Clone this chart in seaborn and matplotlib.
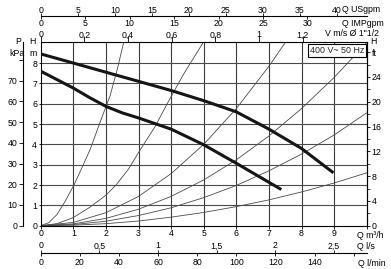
import numpy as np
import pandas as pd
import matplotlib
matplotlib.use("Agg")
import matplotlib.pyplot as plt
import seaborn as sns
from matplotlib import font_manager

# ---------------- data ----------------
q_upper = [0, 1, 2, 3, 4, 5, 6, 7, 8, 8.98]
h_upper = [8.45, 8.0, 7.55, 7.1, 6.65, 6.15, 5.6, 4.75, 3.8, 2.6]

q_lower = [0, 1, 1.5, 2, 2.5, 3, 4, 5, 6, 7.38]
h_lower = [7.6, 6.77, 6.3, 5.87, 5.55, 5.3, 4.75, 3.98, 3.07, 1.78]

# thin system curves
sys1_q = [0, 0.25, 0.5, 0.75, 1.02, 1.25, 1.53, 1.8, 2.13, 2.35, 2.55]
sys1_h = [0, 0.15, 0.55, 1.2, 2.0, 2.8, 3.8, 5.0, 6.4, 7.7, 9.05]
sys2_q = [0, 0.5, 1, 1.5, 2, 2.31, 2.7, 3.05, 3.5, 3.88, 4.4, 5.0]
sys2_h = [0, 0.1, 0.4, 0.9, 1.5, 2.0, 2.8, 3.73, 4.85, 6.0, 7.5, 9.05]
sys3_q = [0, 1, 2, 3, 4, 5, 6, 7, 7.52]
sys3_h = [0, 0.16, 0.64, 1.44, 2.56, 4.0, 5.76, 7.84, 9.05]
sys4_q = [0, 1, 2, 3, 4, 5, 6, 7, 8, 9, 10]
sys4_h = [0, 0.09, 0.36, 0.81, 1.44, 2.25, 3.24, 4.41, 5.76, 7.29, 9.0]
sys5_q = [0, 1, 2, 3, 4, 5, 6, 7, 8, 9, 10]
sys5_h = [0, 0.055, 0.22, 0.5, 0.88, 1.38, 1.98, 2.7, 3.52, 4.46, 5.55]
sys6_q = [0, 1, 2, 3, 4, 5, 6, 7, 8, 9, 10]
sys6_h = [0, 0.026, 0.1, 0.23, 0.42, 0.65, 0.94, 1.27, 1.66, 2.1, 2.6]

q_ticks = [0, 1, 2, 3, 4, 5, 6, 7, 8, 9, 10]
q_labels = ["0", "1", "2", "3", "4", "5", "6", "7", "8", "9", ""]
h_ticks = [0, 1, 2, 3, 4, 5, 6, 7, 8]
kpa_ticks = [0, 10, 20, 30, 40, 50, 60, 70, 80]
kpa_labels = ["0", "10", "20", "30", "40", "50", "60", "70", ""]
ft_ticks = [0, 4, 8, 12, 16, 20, 24, 28]
ft_labels = ["0", "4", "8", "12", "16", "20", "24", "ft"]
ft_minor = [2, 6, 10, 14, 18, 22, 26]
usg_ticks = [0, 5, 10, 15, 20, 25, 30, 35, 40]
usg_labels = ["0", "5", "10", "15", "20", "25", "30", "35", "40"]
imp_ticks = [0, 5, 10, 15, 20, 25, 30]
imp_labels = ["0", "5", "10", "15", "20", "25", "30"]
v_ticks = [0, 0.2, 0.4, 0.6, 0.8, 1.0, 1.2]
v_labels = ["0", "0,2", "0,4", "0,6", "0,8", "1", "1,2"]
ls_ticks = [0, 0.5, 1, 1.5, 2, 2.5]
ls_labels = ["0", "0,5", "1", "1,5", "2", "2,5"]
lmin_ticks = [0, 20, 40, 60, 80, 100, 120, 140, 160]
lmin_labels = ["0", "20", "40", "60", "80", "100", "120", "140", ""]

QMAX = 10.0
HMAX = 9.05
V_PER_Q = 1 / 6.7  # m/s per m3/h

# ---------------- style ----------------
sns.set_theme(style="white")
names = {f.name for f in font_manager.fontManager.ttflist}
if "Liberation Sans Narrow" in names:
    FAM, FS, FSB = "Liberation Sans Narrow", 6.8, 7.4
else:
    FAM, FS, FSB = "Liberation Sans", 6.3, 6.4
plt.rcParams["font.family"] = [FAM, "DejaVu Sans"]
plt.rcParams["axes.linewidth"] = 0.8

W, H = 391, 269
fig = plt.figure(figsize=(W / 100, H / 100), dpi=100)
fig.patch.set_facecolor("white")


def fx(x):
    return x / W


def fy(y):
    return 1 - y / H


L, R, B, T = fx(40.7), fx(366.7), fy(225.7), fy(41.7)
ax = fig.add_axes([L, B, R - L, T - B])
ax.set_xlim(0, QMAX)
ax.set_ylim(0, HMAX)

# grid
for q in q_ticks[1:-1]:
    ax.axvline(q, color="#3a3a3a", lw=0.8, zorder=1)
for h in h_ticks[1:]:
    ax.axhline(h, color="#4a4a4a", lw=0.8, zorder=1)

# thin curves
thin = [(sys1_q, sys1_h), (sys2_q, sys2_h), (sys3_q, sys3_h),
        (sys4_q, sys4_h), (sys5_q, sys5_h), (sys6_q, sys6_h)]
for qq, hh in thin:
    df = pd.DataFrame({"Q": qq, "H": hh})
    sns.lineplot(data=df, x="Q", y="H", ax=ax, color="#4a4a4a", lw=0.6,
                 sort=False, estimator=None, zorder=2)

for qq, hh in [(q_upper, h_upper), (q_lower, h_lower)]:
    df = pd.DataFrame({"Q": qq, "H": hh})
    sns.lineplot(data=df, x="Q", y="H", ax=ax, color="#151515", lw=2.2,
                 sort=False, estimator=None, zorder=3, solid_capstyle="butt",
                 solid_joinstyle="round")

ax.set_xlabel("")
ax.set_ylabel("")
ax.set_xticks(q_ticks)
ax.set_xticklabels(q_labels)
ax.set_yticks(h_ticks)
ax.set_yticklabels([str(h) for h in h_ticks])
ax.tick_params(axis="x", length=1.8, width=0.6, pad=0.8, labelsize=FS,
               colors="black", direction="out")
ax.tick_params(axis="y", length=1.8, width=0.6, pad=0.8, labelsize=FS,
               colors="black", direction="out")
for s in ax.spines.values():
    s.set_color("black")
    s.set_linewidth(0.8)

ax.text(0.909, 0.9505, "400 V~ 50 Hz", transform=ax.transAxes, ha="center",
        va="center", fontsize=FSB, zorder=10,
        bbox=dict(boxstyle="square,pad=0.22", fc="white", ec="black", lw=0.8))

# right ft axis
ax_ft = ax.twinx()
ax_ft.set_ylim(0, HMAX * 3.28084)
ax_ft.set_yticks(ft_ticks)
ax_ft.set_yticklabels(ft_labels)
ax_ft.set_yticks(ft_minor, minor=True)
ax_ft.tick_params(axis="y", which="major", length=2.5, width=0.6, pad=1,
                  labelsize=FS, colors="black")
ax_ft.tick_params(axis="y", which="minor", length=2.0, width=0.6)
for k, s in ax_ft.spines.items():
    s.set_visible(k == "right")
    s.set_linewidth(0.8)
    s.set_color("black")

# left kPa axis
ax_kpa = ax.twinx()
ax_kpa.set_ylim(0, HMAX * 9.80665)
ax_kpa.yaxis.set_ticks_position("left")
ax_kpa.yaxis.set_label_position("left")
ax_kpa.spines["left"].set_position(("axes", (22.7 - 40.7) / 326.0))
for k, s in ax_kpa.spines.items():
    s.set_visible(k == "left")
    s.set_linewidth(0.8)
    s.set_color("black")
ax_kpa.set_yticks(kpa_ticks)
ax_kpa.set_yticklabels(kpa_labels)
ax_kpa.tick_params(axis="y", length=3, width=0.6, pad=0.8, labelsize=FS,
                   colors="black")

# velocity axis on top of the plot
ax_v = ax.twiny()
ax_v.set_xlim(0, QMAX * V_PER_Q)
ax_v.set_xticks(v_ticks)
ax_v.set_xticklabels(v_labels)
ax_v.tick_params(axis="x", length=4.3, width=0.6, pad=-2.6, labelsize=FS,
                 colors="black")
for k, s in ax_v.spines.items():
    s.set_visible(False)


def scale_axes(ypx, xmax, ticks, labels, where, pad):
    a = fig.add_axes([L, fy(ypx), R - L, 1e-5])
    a.patch.set_visible(False)
    a.set_xlim(0, xmax)
    a.set_yticks([])
    for k, s in a.spines.items():
        s.set_visible(False)
    if where == "top":
        a.xaxis.tick_top()
        a.spines["top"].set_visible(True)
        a.spines["top"].set_linewidth(0.8)
        a.spines["top"].set_color("black")
    else:
        a.xaxis.tick_bottom()
    a.set_xticks(ticks)
    a.set_xticklabels(labels)
    a.tick_params(axis="x", length=2.2, width=0.6, pad=pad, labelsize=FS,
                  colors="black")
    return a


scale_axes(15.7, QMAX / 0.227125, usg_ticks, usg_labels, "top", -1.4)
scale_axes(15.7, QMAX / 0.272765, imp_ticks, imp_labels, "bottom", 0.2)
scale_axes(253.0, QMAX / 3.6, ls_ticks, ls_labels, "top", -0.4)
scale_axes(253.0, QMAX / 0.06, lmin_ticks, lmin_labels, "bottom", 1.6)

# extra labels
kw = dict(fontsize=FS, color="black", transform=fig.transFigure)
fig.text(fx(341.5), fy(9.3), "Q USgpm", ha="left", va="center", **kw)
fig.text(fx(341.7), fy(23.3), "Q IMPgpm", ha="left", va="center", **kw)
fig.text(fx(325.0), fy(33.8), "V m/s Ø 1\"1/2", ha="left", va="center", **kw)
fig.text(fx(18.0), fy(41.7), "P", ha="center", va="center", **kw)
fig.text(fx(17.0), fy(53.0), "kPa", ha="center", va="center", **kw)
fig.text(fx(32.3), fy(41.7), "H", ha="center", va="center", **kw)
fig.text(fx(33.0), fy(53.3), "m", ha="center", va="center", **kw)
fig.text(fx(373.3), fy(41.7), "H", ha="center", va="center", **kw)
fig.text(fx(356.7), fy(235.9), "Q m³/h", ha="left", va="center", **kw)
fig.text(fx(356.7), fy(246.4), "Q l/s", ha="left", va="center", **kw)
fig.text(fx(358.0), fy(263.3), "Q l/min", ha="left", va="center", **kw)

fig.savefig("out.png", dpi=100, facecolor="white")
